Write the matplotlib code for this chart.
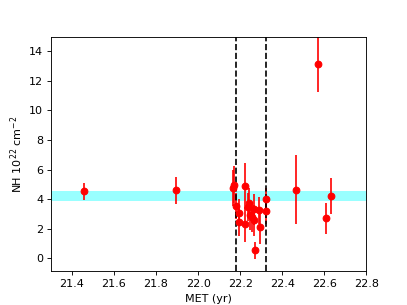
import numpy as np
import matplotlib
matplotlib.use("Agg")
import matplotlib.pyplot as plt

# MET (yr), NH (1e22 cm^-2) and symmetric errors
met = [21.457, 21.896, 22.166, 22.173, 22.179, 22.193, 22.193, 22.223, 22.223,
       22.238, 22.244, 22.249, 22.257, 22.266, 22.266, 22.270, 22.288, 22.296,
       22.322, 22.325, 22.464, 22.572, 22.608, 22.631]
nh = [4.52, 4.59, 4.75, 4.98, 3.53, 3.08, 2.42, 4.89, 2.29,
      3.48, 3.75, 2.90, 2.78, 3.30, 2.56, 0.52, 3.24, 2.13,
      4.02, 3.19, 4.64, 13.12, 2.69, 4.23]
nh_err = [0.55, 0.90, 1.25, 1.25, 0.85, 0.90, 0.90, 1.58, 1.20,
          0.95, 1.00, 1.00, 1.00, 1.05, 1.05, 0.55, 0.90, 1.20,
          0.70, 0.90, 2.35, 1.85, 1.03, 1.22]

t_start, t_end = 22.178, 22.322
band_lo, band_hi = 3.9, 4.56

dpi = 80
fig, ax = plt.subplots(figsize=(407 / dpi, 305 / dpi), dpi=dpi)
ax.axhspan(band_lo, band_hi, color="cyan", alpha=0.4, lw=0)
ax.errorbar(met, nh, yerr=nh_err, fmt="o", color="red", ms=6)
ax.axvline(t_start, color="k", ls="--")
ax.axvline(t_end, color="k", ls="--")
ax.set_xlim(21.3, 22.8)
ax.set_ylim(-0.9, 15)
ax.set_xlabel("MET (yr)")
ax.set_ylabel(r"NH $10^{22}$ cm$^{-2}$")
fig.savefig("out.png", dpi=dpi)
